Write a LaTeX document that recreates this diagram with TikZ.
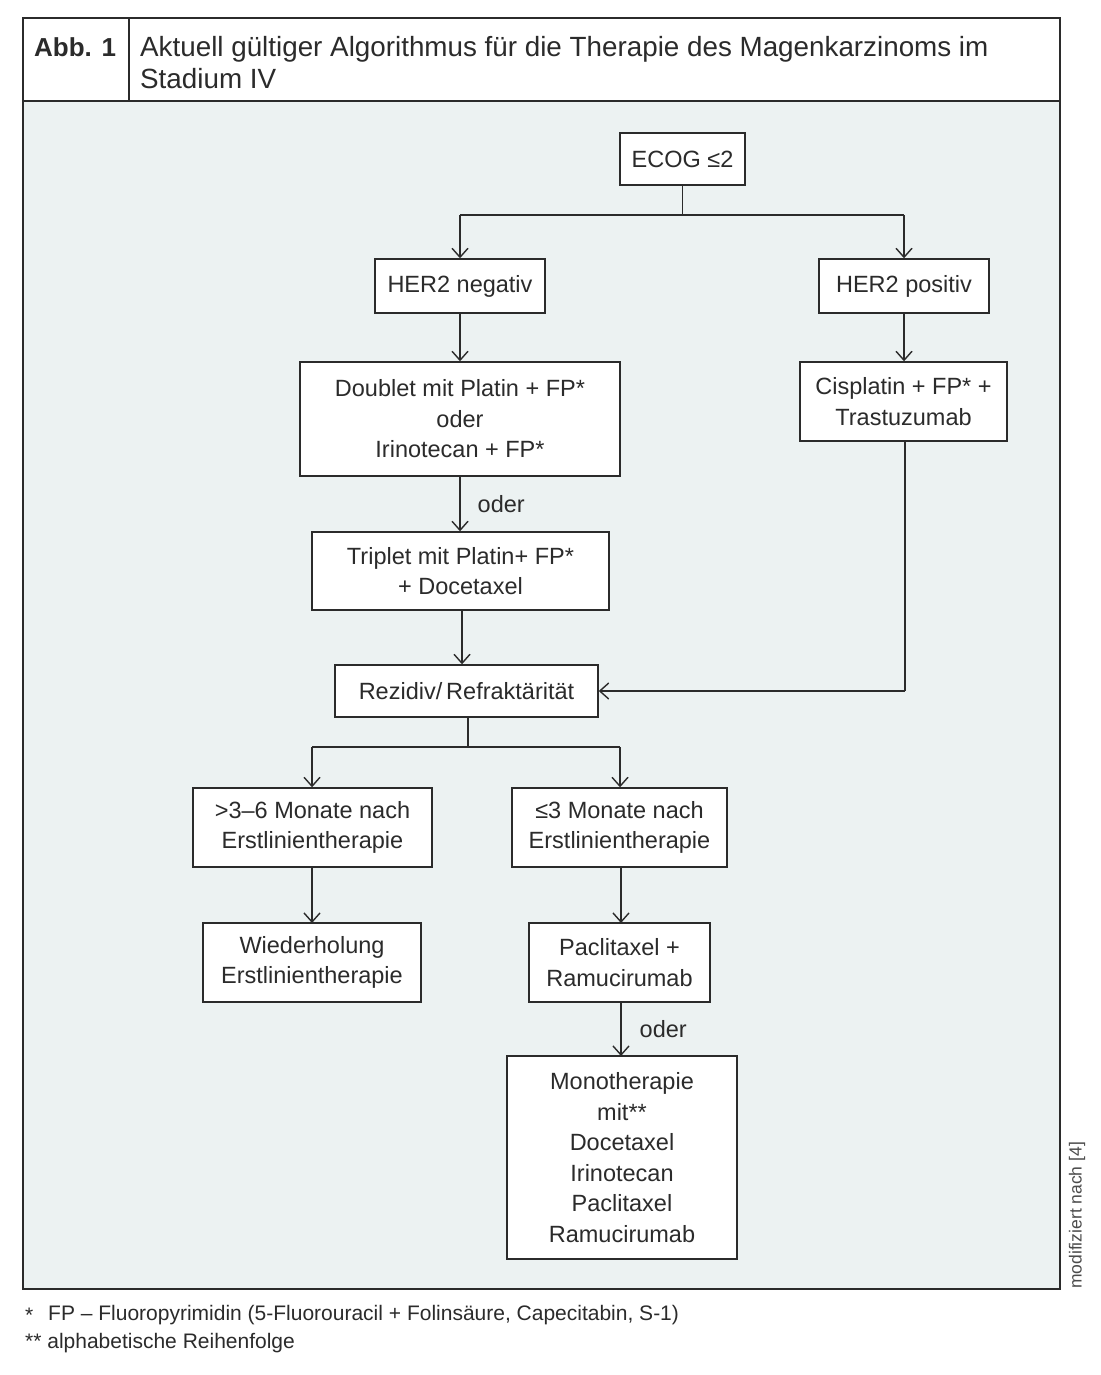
\documentclass[tikz,border=0pt]{standalone}
\usepackage{fontspec}
\setmainfont{Liberation Sans}
\usetikzlibrary{arrows.meta}
\definecolor{bgc}{HTML}{ECF2F2}
\definecolor{ln}{HTML}{2B2B2B}
\tikzset{
  box/.style={draw=ln, line width=1.4pt, fill=white, align=center, inner sep=0pt,
    font=\fontsize{23.5}{30.5}\selectfont, text=ln},
  conn/.style={draw=ln, line width=1.4pt},
  arr/.style={conn, -{Straight Barb[length=9pt,width=16pt,line width=1.4pt]}},
  lbl/.style={font=\fontsize{23.5}{28}\selectfont, text=ln, inner sep=0pt}
}
\begin{document}
\begin{tikzpicture}[x=1pt,y=-1pt]
\useasboundingbox (0,0) rectangle (1100,1375);
\fill[white] (0,0) rectangle (1100,1375);
% frame
\fill[bgc] (23,101) rectangle (1060,1289);
\draw[ln, line width=2pt] (23,18) rectangle (1060,1289);
\draw[ln, line width=2pt] (23,101) -- (1060,101);
\draw[ln, line width=1.5pt] (129,18) -- (129,101);
\node[anchor=base west, inner sep=0pt, font=\fontsize{26}{32}\selectfont\bfseries, text=ln] (abb) at (34,57) {Abb. 1};
\node[anchor=base west, inner sep=0pt, font=\fontsize{27.8}{32}\selectfont, text=ln] (title1) at (140,57)
  {Aktuell gültiger Algorithmus für die Therapie des Magenkarzinoms im};
\node[anchor=base west, inner sep=0pt, font=\fontsize{27.8}{32}\selectfont, text=ln] (title2) at (140,89)
  {Stadium IV};

% nodes
\node[box, minimum width=125pt, minimum height=52pt] (ecog) at (682.5,159) {ECOG ≤2};
\node[box, minimum width=170pt, minimum height=54pt] (her2n) at (460,286) {HER2 negativ};
\node[box, minimum width=170pt, minimum height=54pt] (her2p) at (904,286) {HER2 positiv};
\node[box, minimum width=320pt, minimum height=114pt] (doublet) at (460,419) {Doublet mit Platin + FP*\\oder\\Irinotecan + FP*};
\node[box, minimum width=207pt, minimum height=79pt] (cis) at (903.5,401.5) {Cisplatin + FP* +\\Trastuzumab};
\node[box, minimum width=297pt, minimum height=78pt] (triplet) at (460.5,571) {Triplet mit Platin+ FP*\\+ Docetaxel};
\node[box, minimum width=263pt, minimum height=52pt] (rez) at (466.5,691) {Rezidiv/\,Refraktärität};
\node[box, minimum width=239pt, minimum height=79pt] (late) at (312.5,827.5) {>3–6 Monate nach\\Erstlinientherapie};
\node[box, minimum width=215pt, minimum height=79pt] (early) at (619.5,827.5) {≤3 Monate nach\\Erstlinientherapie};
\node[box, minimum width=218pt, minimum height=79pt] (wied) at (312,962.5) {Wiederholung\\Erstlinientherapie};
\node[box, minimum width=181pt, minimum height=79pt] (pacli) at (619.5,962.5) {Paclitaxel +\\Ramucirumab};
\node[box, minimum width=230pt, minimum height=203pt] (mono) at (622,1157.5) {Monotherapie\\mit**\\Docetaxel\\Irinotecan\\Paclitaxel\\Ramucirumab};

% connectors
\coordinate (s1) at (682.5,215);
\coordinate (s1l) at (460,215);
\coordinate (s1r) at (904,215);
\draw[conn] (ecog.south) -- (s1);
\draw[conn] (s1l) -- (s1r);
\draw[arr] (s1l) -- (her2n.north);
\draw[arr] (s1r) -- (her2p.north);
\draw[arr] (her2n.south) -- (doublet.north);
\draw[arr] (her2p.south) -- (her2p.south |- cis.north);
\draw[arr] (doublet.south) -- node[lbl, anchor=west, xshift=17pt] (oder1) {oder} (doublet.south |- triplet.north);
\coordinate (t1) at (462,610);
\draw[arr] (t1) -- (t1 |- rez.north);
\coordinate (c1) at (905,691);
\draw[conn] (905,441) -- (c1);
\draw[arr] (c1) -- (rez.east);
\coordinate (s2) at (468,747);
\coordinate (s2l) at (312,747);
\coordinate (s2r) at (620,747);
\draw[conn] (468,717) -- (s2);
\draw[conn] (s2l) -- (s2r);
\draw[arr] (s2l) -- (s2l |- late.north);
\draw[arr] (s2r) -- (s2r |- early.north);
\draw[arr] (312,867) -- (312,923);
\draw[arr] (621,867) -- (621,923);
\draw[arr] (621,1002) -- node[lbl, anchor=west, xshift=18pt] (oder2) {oder} (621,1056);

% side note
\node[rotate=90, anchor=west, inner sep=0pt, font=\fontsize{17.5}{20}\selectfont, text=ln!85] (mod) at (1077,1289) {modifiziert nach [4]};

% footnotes
\node[anchor=west, inner sep=0pt, font=\fontsize{21}{24}\selectfont, text=ln] (fn1s) at (25,1315) {*};
\node[anchor=west, inner sep=0pt, font=\fontsize{21}{24}\selectfont, text=ln] (fn1) at (48,1315) {FP – Fluoropyrimidin (5-Fluorouracil + Folinsäure, Capecitabin, S-1)};
\node[anchor=west, inner sep=0pt, font=\fontsize{21}{24}\selectfont, text=ln] (fn2) at (25,1343) {** alphabetische Reihenfolge};
\end{tikzpicture}
\end{document}
